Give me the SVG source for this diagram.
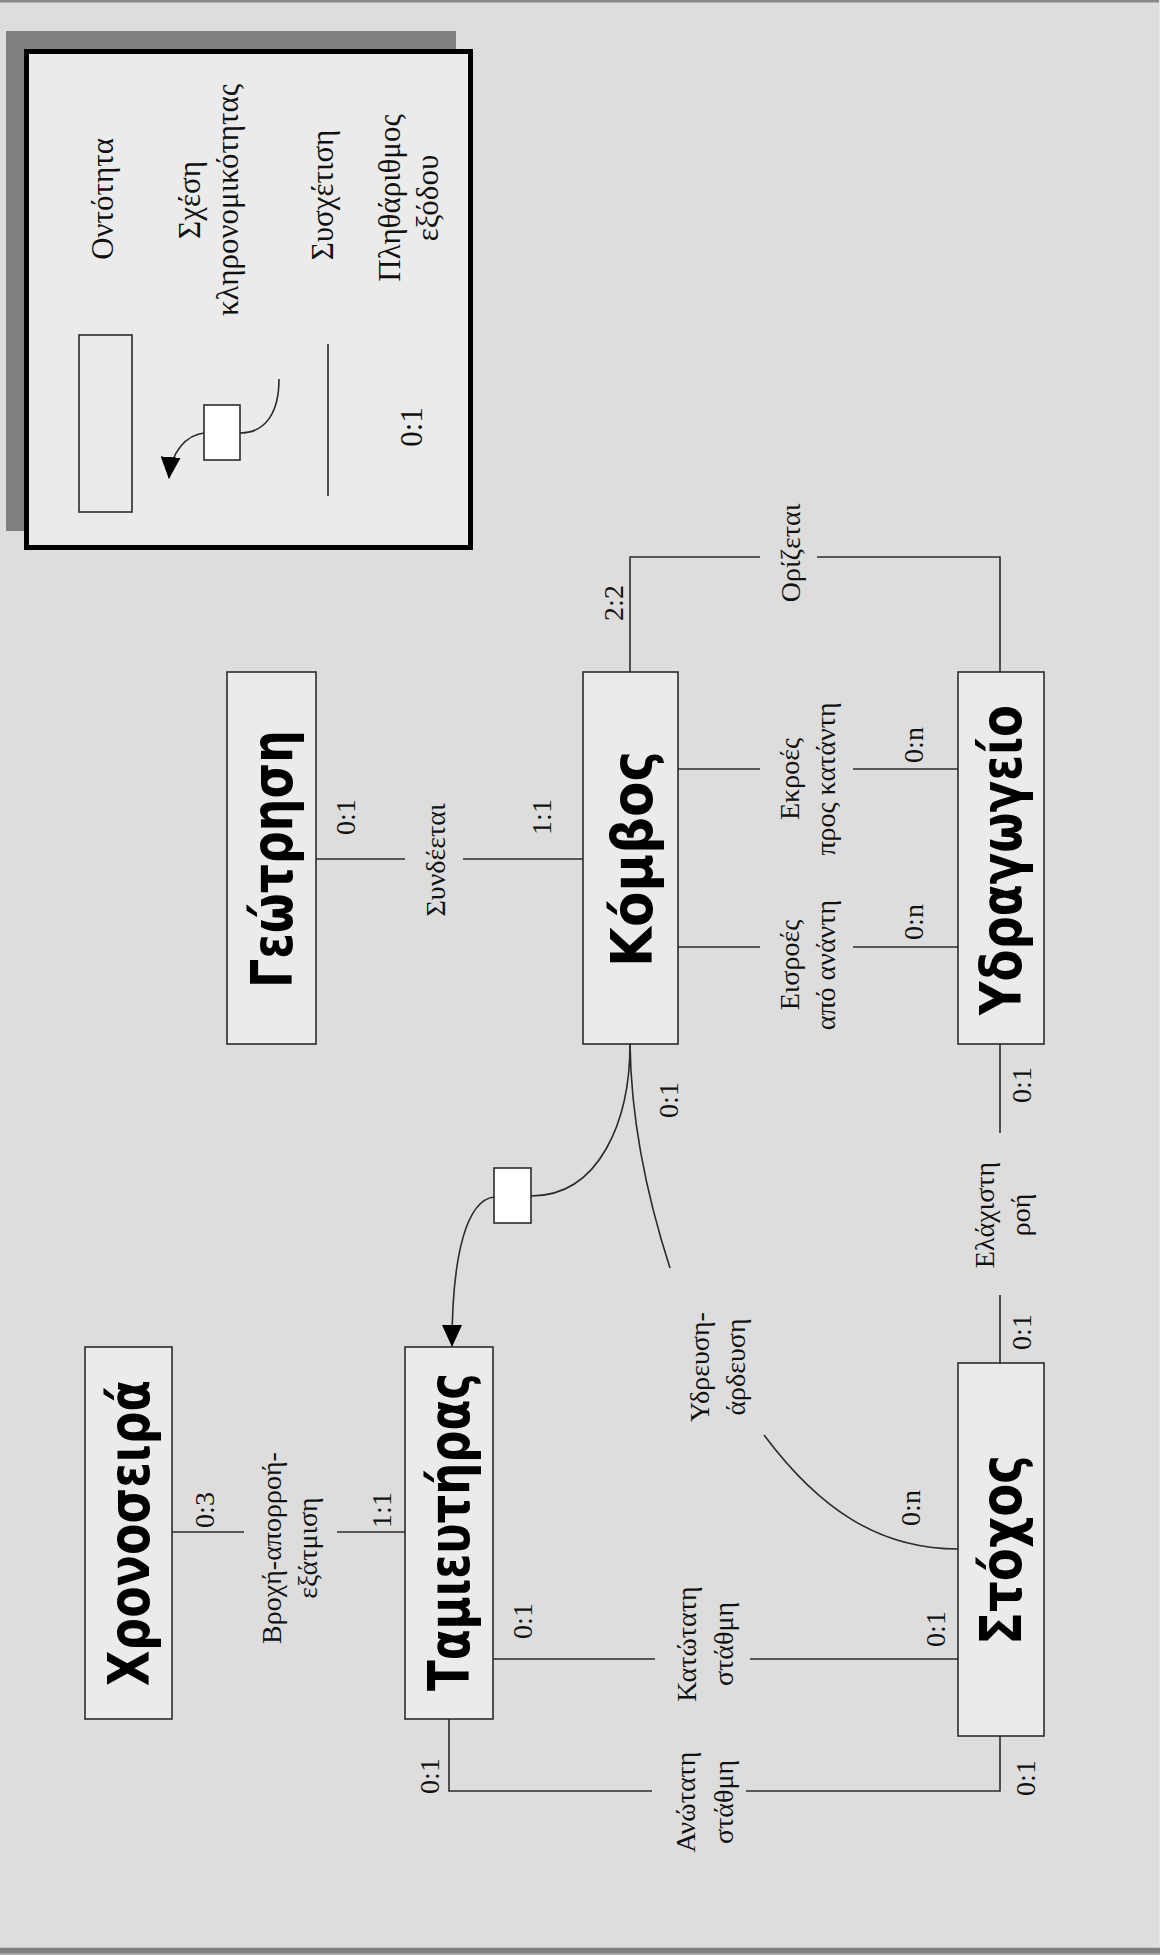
<svg xmlns="http://www.w3.org/2000/svg" width="1160" height="1955" viewBox="0 0 1160 1955">
<style>
.bg{fill:#dddddd}
.ent{fill:#ebebeb;stroke:#2b2b2b;stroke-width:1.6}
.inh{fill:#ffffff;stroke:#2b2b2b;stroke-width:1.6}
.ln{fill:none;stroke:#2b2b2b;stroke-width:1.6}
.lbl{font-family:"Liberation Serif","Times New Roman",serif;font-size:28px;fill:#111;text-anchor:middle}
.leg{font-family:"Liberation Serif","Times New Roman",serif;font-size:31px;fill:#111;text-anchor:middle}
.et{font-family:"DejaVu Sans","Verdana",sans-serif;font-size:56px;font-weight:bold;fill:#000;text-anchor:middle}
</style>
<defs>
<marker id="arr" markerUnits="userSpaceOnUse" viewBox="0 0 22 20" markerWidth="22" markerHeight="20" refX="21" refY="10" orient="auto">
<path d="M0,0 L22,10 L0,20 z" fill="#000"/>
</marker>
</defs>
<rect class="bg" x="0" y="0" width="1160" height="1955"/>
<rect x="0" y="0" width="1160" height="2" fill="#8a8a8a"/>
<rect x="0" y="2" width="1160" height="1" fill="#b0b0b0"/>
<rect x="1159" y="0" width="1" height="1955" fill="#e8e8e8"/>
<rect x="0" y="1947" width="1160" height="1" fill="#c4c4c4"/>
<rect x="0" y="1948" width="1160" height="5" fill="#808080"/>
<rect x="0" y="1953" width="1160" height="2" fill="#a8a8a8"/>

<g id="legend">
<rect x="6" y="31" width="450" height="500" fill="#808080"/>
<rect x="26.5" y="51.5" width="444" height="496" fill="#ebebeb" stroke="#000" stroke-width="5"/>
<rect class="ent" x="79" y="335" width="53" height="177"/>
<rect class="inh" x="204" y="405" width="36" height="55"/>
<path class="ln" d="M279,379 C279,412 266,433 240,433"/>
<path class="ln" d="M204,433 C186,435 171,452 169,478" marker-end="url(#arr)"/>
<path class="ln" d="M328,344 V496"/>
<text class="leg" transform="translate(113,199) rotate(-90)">Οντότητα</text>
<text class="leg" transform="translate(200,200) rotate(-90)"><tspan x="0" y="0">Σχέση</tspan><tspan x="0" y="38">κληρονομικότητας</tspan></text>
<text class="leg" transform="translate(333,195) rotate(-90)">Συσχέτιση</text>
<text class="leg" transform="translate(400,198) rotate(-90)"><tspan x="0" y="0">Πληθάριθμος</tspan><tspan x="0" y="38">εξόδου</tspan></text>
<text class="leg" transform="translate(422,427) rotate(-90)">0:1</text>
</g>

<g id="connectors">
<path class="ln" d="M316,859 H405 M463,859 H583"/>
<path class="ln" d="M630,672 V557 H760 M817,557 H1000 V672"/>
<path class="ln" d="M678,769 H760 M853,769 H958"/>
<path class="ln" d="M678,947 H760 M853,947 H958"/>
<path class="ln" d="M1000,1044 V1133 M1000,1295 V1363"/>
<path class="ln" d="M630,1044 C630,1120 600,1196 531,1196"/>
<path class="ln" d="M494,1197 C468,1200 452,1250 452,1346" marker-end="url(#arr)"/>
<path class="ln" d="M630,1044 C631,1120 648,1200 670,1268"/>
<path class="ln" d="M764,1435 C820,1510 880,1549 958,1549"/>
<path class="ln" d="M172,1532 H244 M337,1532 H405"/>
<path class="ln" d="M493,1659 H655 M750,1659 H958"/>
<path class="ln" d="M449,1719 V1791 H652 M746,1791 H1000 V1736"/>
<rect class="inh" x="494" y="1168" width="37" height="55"/>
</g>

<g id="labels">
<text class="lbl" transform="translate(355,817) rotate(-90)">0:1</text>
<text class="lbl" transform="translate(445,860) rotate(-90)">Συνδέεται</text>
<text class="lbl" transform="translate(551,817) rotate(-90)">1:1</text>
<text class="lbl" transform="translate(623,603) rotate(-90)">2:2</text>
<text class="lbl" transform="translate(800,553) rotate(-90)">Ορίζεται</text>
<text class="lbl" transform="translate(799,779) rotate(-90)"><tspan x="0" y="0">Εκροές</tspan><tspan x="0" y="36">προς κατάντη</tspan></text>
<text class="lbl" transform="translate(923,745) rotate(-90)">0:n</text>
<text class="lbl" transform="translate(799,965) rotate(-90)"><tspan x="0" y="0">Εισροές</tspan><tspan x="0" y="36">από ανάντη</tspan></text>
<text class="lbl" transform="translate(923,922) rotate(-90)">0:n</text>
<text class="lbl" transform="translate(678,1100) rotate(-90)">0:1</text>
<text class="lbl" transform="translate(1031,1085) rotate(-90)">0:1</text>
<text class="lbl" transform="translate(994,1215) rotate(-90)"><tspan x="0" y="0">Ελάχιστη</tspan><tspan x="0" y="36">ροή</tspan></text>
<text class="lbl" transform="translate(1031,1332) rotate(-90)">0:1</text>
<text class="lbl" transform="translate(709,1367) rotate(-90)"><tspan x="0" y="0">Υδρευση-</tspan><tspan x="0" y="36">άρδευση</tspan></text>
<text class="lbl" transform="translate(920,1508) rotate(-90)">0:n</text>
<text class="lbl" transform="translate(214,1510) rotate(-90)">0:3</text>
<text class="lbl" transform="translate(391,1510) rotate(-90)">1:1</text>
<text class="lbl" transform="translate(281,1548) rotate(-90)"><tspan x="0" y="0">Βροχή-απορροή-</tspan><tspan x="0" y="36">εξάτμιση</tspan></text>
<text class="lbl" transform="translate(532,1621) rotate(-90)">0:1</text>
<text class="lbl" transform="translate(945,1629) rotate(-90)">0:1</text>
<text class="lbl" transform="translate(696,1644) rotate(-90)"><tspan x="0" y="0">Κατώτατη</tspan><tspan x="0" y="37">στάθμη</tspan></text>
<text class="lbl" transform="translate(439,1776) rotate(-90)">0:1</text>
<text class="lbl" transform="translate(1035,1778) rotate(-90)">0:1</text>
<text class="lbl" transform="translate(695,1802) rotate(-90)"><tspan x="0" y="0">Ανώτατη</tspan><tspan x="0" y="38">στάθμη</tspan></text>
</g>

<g id="node-geotrisi">
<rect class="ent" x="227" y="672" width="89" height="372"/>
<text class="et" transform="translate(292,859) rotate(-90)" textLength="258" lengthAdjust="spacingAndGlyphs">Γεώτρηση</text>
</g>
<g id="node-komvos">
<rect class="ent" x="583" y="672" width="95" height="372"/>
<text class="et" transform="translate(652,859) rotate(-90)" textLength="216" lengthAdjust="spacingAndGlyphs">Κόμβος</text>
</g>
<g id="node-ydragogeio">
<rect class="ent" x="958" y="672" width="86" height="372"/>
<text class="et" transform="translate(1021,860) rotate(-90)" textLength="310" lengthAdjust="spacingAndGlyphs">Υδραγωγείο</text>
</g>
<g id="node-xronoseira">
<rect class="ent" x="85" y="1347" width="87" height="372"/>
<text class="et" transform="translate(149,1533) rotate(-90)" textLength="306" lengthAdjust="spacingAndGlyphs">Χρονοσειρά</text>
</g>
<g id="node-tamieutiras">
<rect class="ent" x="405" y="1347" width="88" height="372"/>
<text class="et" transform="translate(469,1532) rotate(-90)" textLength="318" lengthAdjust="spacingAndGlyphs">Ταμιευτήρας</text>
</g>
<g id="node-stoxos">
<rect class="ent" x="958" y="1363" width="86" height="373"/>
<text class="et" transform="translate(1021,1550) rotate(-90)" textLength="190" lengthAdjust="spacingAndGlyphs">Στόχος</text>
</g>
</svg>
